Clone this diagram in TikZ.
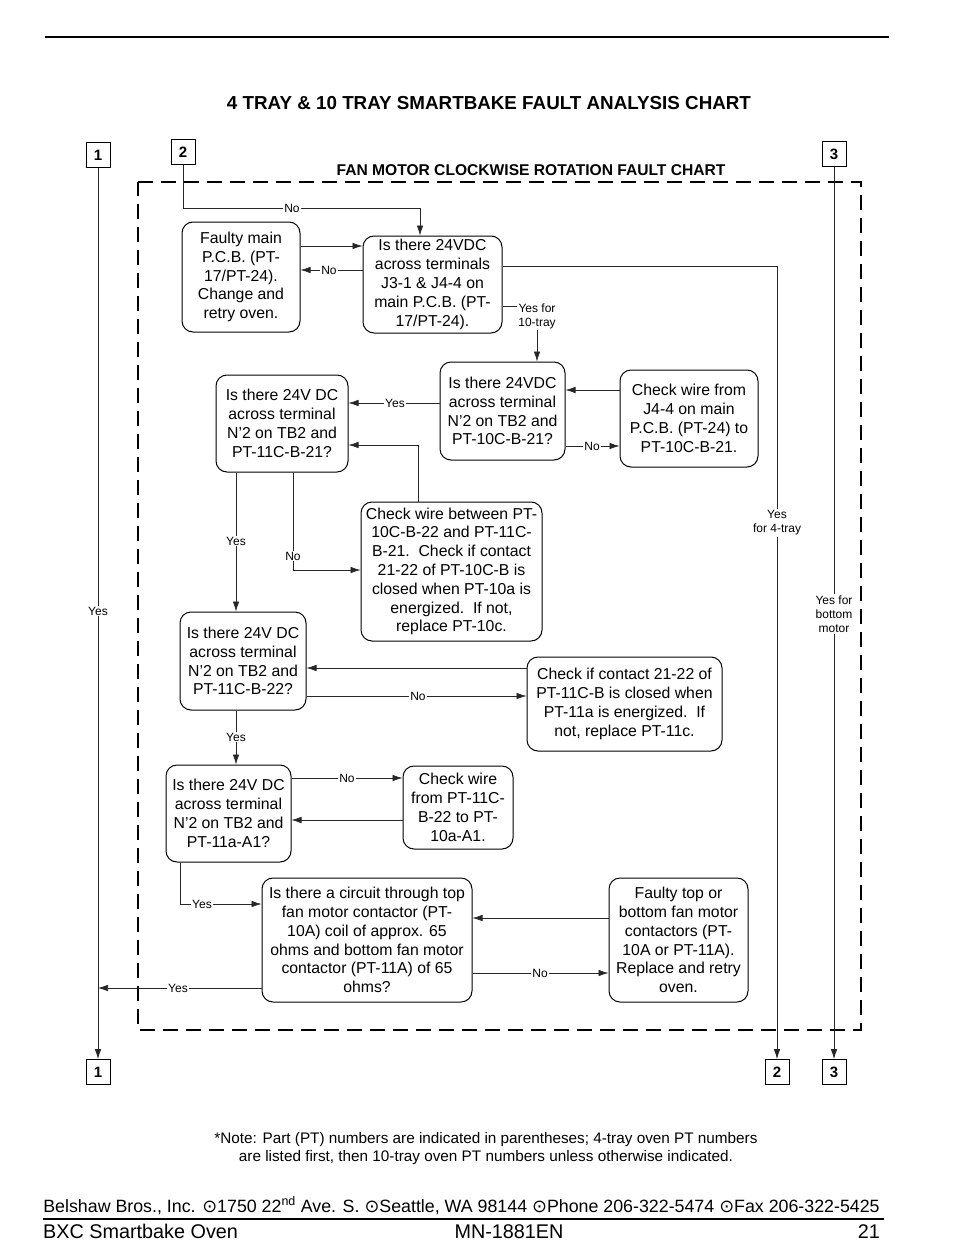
\documentclass[tikz,border=0pt]{standalone}
\usepackage{fontspec}
\setmainfont{Liberation Sans}
\newfontfamily\symfont{DejaVu Sans}
\usetikzlibrary{arrows.meta}
\begin{document}
\begin{tikzpicture}[x=1pt,y=-1pt,
  box/.style={draw,line width=1pt,rounded corners=11pt,align=center,inner sep=0pt,font=\fontsize{15.8}{18.8}\selectfont},
  numbox/.style={draw,line width=0.8pt,minimum width=24pt,minimum height=25pt,inner sep=0pt,font=\fontsize{15}{18}\selectfont\bfseries},
  conn/.style={line width=0.7pt,black!85},
  arr/.style={conn,-{Latex[length=10pt,width=6.5pt]}},
  lbl/.style={fill=white,inner sep=1.2pt,font=\fontsize{12}{14}\selectfont,align=center},
  frame/.style={line width=2.8pt,dash pattern=on 15pt off 8pt},
  foot/.style={font=\fontsize{19.8}{21}\selectfont,inner sep=0pt},
]
\useasboundingbox[fill=white] (0,0) rectangle (954,1260);

% header
\draw[line width=1.2pt] (45,37) -- (889,37);
\node[font=\fontsize{18.8}{21}\selectfont\bfseries] (title) at (489,103) {4 TRAY \& 10 TRAY SMARTBAKE FAULT ANALYSIS CHART};
\node[font=\fontsize{15.6}{17}\selectfont\bfseries] (sub) at (531,170) {FAN MOTOR CLOCKWISE ROTATION FAULT CHART};

% dashed frame
\draw[frame] (138,182) -- (861,182) -- (861,1030) -- (138,1030) -- cycle;

% number boxes
\node[numbox] (t1) at (98,155) {1};
\node[numbox] (t2) at (183,152) {2};
\node[numbox] (t3) at (834,154) {3};
\node[numbox] (b1) at (98,1072) {1};
\node[numbox] (b2) at (777,1072) {2};
\node[numbox] (b3) at (834,1072) {3};

% process nodes
\node[box,minimum width=118pt,minimum height=110pt] (A) at (241,277) {Faulty main\\P.C.B. (PT-\\17/PT-24).\\Change and\\retry oven.};
\node[box,minimum width=139pt,minimum height=97pt] (B) at (432.5,284.5) {Is there 24VDC\\across terminals\\J3-1 \& J4-4 on\\main P.C.B. (PT-\\17/PT-24).};
\node[box,minimum width=125pt,minimum height=98pt] (C) at (502.5,411) {Is there 24VDC\\across terminal\\N'2 on TB2 and\\PT-10C-B-21?};
\node[box,minimum width=138pt,minimum height=97pt] (D) at (689,418.5) {Check wire from\\J4-4 on main\\P.C.B. (PT-24) to\\PT-10C-B-21.};
\node[box,minimum width=132pt,minimum height=97pt] (E) at (282,423.5) {Is there 24V DC\\across terminal\\N'2 on TB2 and\\PT-11C-B-21?};
\node[box,minimum width=181pt,minimum height=139pt] (F) at (451.5,571.5) {Check wire between PT-\\10C-B-22 and PT-11C-\\B-21.\ \ Check if contact\\21-22 of PT-10C-B is\\closed when PT-10a is\\energized.\ \ If not,\\replace PT-10c.};
\node[box,minimum width=126pt,minimum height=98pt] (G) at (243,661) {Is there 24V DC\\across terminal\\N'2 on TB2 and\\PT-11C-B-22?};
\node[box,minimum width=195pt,minimum height=94pt] (H) at (624.5,704) {Check if contact 21-22 of\\PT-11C-B is closed when\\PT-11a is energized.\ \ If\\not, replace PT-11c.};
\node[box,minimum width=125pt,minimum height=97pt] (I) at (228.5,813.5) {Is there 24V DC\\across terminal\\N'2 on TB2 and\\PT-11a-A1?};
\node[box,minimum width=110pt,minimum height=83pt] (J) at (458,807.5) {Check wire\\from PT-11C-\\B-22 to PT-\\10a-A1.};
\node[box,minimum width=210pt,minimum height=124pt] (K) at (367,940) {Is there a circuit through top\\fan motor contactor (PT-\\10A) coil of approx. 65\\ohms and bottom fan motor\\contactor (PT-11A) of 65\\ohms?};
\node[box,minimum width=139pt,minimum height=124pt] (L) at (678.5,940) {Faulty top or\\bottom fan motor\\contactors (PT-\\10A or PT-11A).\\Replace and retry\\oven.};

% coordinates
\coordinate (c2) at (420,208);
\coordinate (c4) at (777,266);
\coordinate (yAB) at (0,246);
\coordinate (yBA) at (0,270);
\coordinate (y10) at (0,306);
\coordinate (yDC) at (0,390);
\coordinate (yCE) at (0,403);
\coordinate (yCD) at (0,446);
\coordinate (cF) at (418,445);
\coordinate (cE) at (293,570);
\coordinate (xY) at (236,0);
\coordinate (yHG) at (0,668);
\coordinate (yGH) at (0,696);
\coordinate (yIJ) at (0,778);
\coordinate (yJI) at (0,820);
\coordinate (cI) at (180,904);
\coordinate (yLK) at (0,918);
\coordinate (yKL) at (0,973);
\coordinate (yK1) at (0,988);

\node[lbl] (l10) at (537,316) {Yes for\\10-tray};

% connectors
\draw[arr] (t1.south) -- (b1.north);
\draw[arr] (t3.south) -- (b3.north);
\draw[arr] (t2.south) |- (c2) -- (c2 |- B.north);
\draw[arr] (B.east |- c4) -- (c4) -- (c4 |- b2.north);
\draw[arr] (A.east |- yAB) -- (B.west |- yAB);
\draw[arr] (B.west |- yBA) -- (A.east |- yBA);
\draw[conn] (B.east |- y10) -- (l10.west |- y10);
\draw[arr] (l10.south) -- (l10.south |- C.north);
\draw[arr] (D.west |- yDC) -- (C.east |- yDC);
\draw[arr] (C.west |- yCE) -- (E.east |- yCE);
\draw[arr] (C.east |- yCD) -- (D.west |- yCD);
\draw[arr] (F.north -| cF) -- (cF) -- (E.east |- cF);
\draw[arr] (E.south -| cE) -- (cE) -- (F.west |- cE);
\draw[arr] (E.south -| xY) -- (G.north -| xY);
\draw[arr] (H.west |- yHG) -- (G.east |- yHG);
\draw[arr] (G.east |- yGH) -- (H.west |- yGH);
\draw[arr] (G.south -| xY) -- (I.north -| xY);
\draw[arr] (I.east |- yIJ) -- (J.west |- yIJ);
\draw[arr] (J.west |- yJI) -- (I.east |- yJI);
\draw[arr] (I.south -| cI) -- (cI) -- (K.west |- cI);
\draw[arr] (L.west |- yLK) -- (K.east |- yLK);
\draw[arr] (K.east |- yKL) -- (L.west |- yKL);
\draw[arr] (K.west |- yK1) -- (t1.south |- yK1);

% connector labels
\node[lbl] (n1) at (292,208) {No};
\node[lbl] (n2) at (329,270) {No};
\node[lbl] (n3) at (395,403) {Yes};
\node[lbl] (n4) at (592,446) {No};
\node[lbl] (n5) at (293,556) {No};
\node[lbl] (n6) at (236,541) {Yes};
\node[lbl] (n7) at (418,696) {No};
\node[lbl] (n8) at (236,737) {Yes};
\node[lbl] (n9) at (347,778) {No};
\node[lbl] (n10) at (202,904) {Yes};
\node[lbl] (n11) at (540,973) {No};
\node[lbl] (n12) at (178,988) {Yes};
\node[lbl] (n13) at (98,611) {Yes};
\node[lbl] (n14) at (777,523) {Yes\\for 4-tray};
\node[lbl] (n15) at (834,614) {Yes for\\bottom\\motor};

% note
\node[font=\fontsize{15.3}{18}\selectfont,align=center] (note) at (486,1149) {*Note: Part (PT) numbers are indicated in parentheses; 4-tray oven PT numbers\\are listed first, then 10-tray oven PT numbers unless otherwise indicated.};

% footer
\node[font=\fontsize{17.8}{20}\selectfont,inner sep=0pt,anchor=base] (addr) at (461.5,1212) {Belshaw Bros., Inc. {\symfont ⊙}1750 22\textsuperscript{nd} Ave. S. {\symfont ⊙}Seattle, WA 98144 {\symfont ⊙}Phone 206-322-5474 {\symfont ⊙}Fax 206-322-5425};
\draw[line width=1.2pt] (43,1219) -- (884,1219);
\node[foot,anchor=base west] (f1) at (43,1238) {BXC Smartbake Oven};
\node[foot,anchor=base] (f2) at (509,1238) {MN-1881EN};
\node[foot,anchor=base east] (f3) at (880,1238) {21};
\end{tikzpicture}
\end{document}
